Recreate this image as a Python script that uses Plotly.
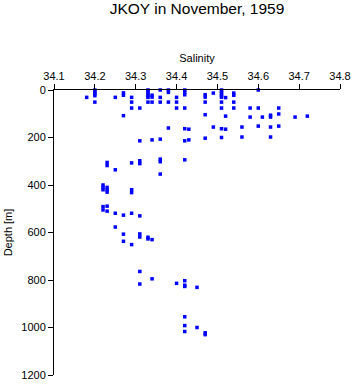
import plotly.graph_objects as go

salinity = (
    [34.18]
    + [34.20] * 5
    + [34.22] * 5
    + [34.23] * 7
    + [34.25] * 4
    + [34.27] * 6
    + [34.29] * 8
    + [34.31] * 9
    + [34.33] * 8
    + [34.34] * 6
    + [34.36] * 7
    + [34.38] * 4
    + [34.40] * 4
    + [34.42] * 13
    + [34.43] * 2
    + [34.45] * 2
    + [34.47] * 7
    + [34.49] * 2
    + [34.51] * 9
    + [34.52] * 3
    + [34.54] * 4
    + [34.56] * 2
    + [34.58] * 2
    + [34.60] * 3
    + [34.61] * 1
    + [34.63] * 4
    + [34.65] * 3
    + [34.69] * 1
    + [34.72] * 1
)
depth = (
    [31]
    + [0, 8, 16, 24, 51]
    + [400, 410, 420, 491, 505]
    + [305, 318, 410, 420, 430, 489, 510]
    + [31, 336, 519, 577]
    + [12, 22, 108, 527, 607, 637]
    + [31, 51, 76, 307, 420, 432, 519, 651]
    + [76, 214, 298, 310, 530, 606, 619, 764, 817]
    + [0, 8, 16, 24, 31, 51, 620, 627]
    + [22, 30, 51, 210, 630, 795]
    + [0, 31, 51, 207, 291, 302, 354]
    + [0, 10, 51, 160]
    + [31, 51, 76, 814]
    + [0, 10, 20, 76, 163, 214, 294, 803, 822, 827, 955, 992, 1017]
    + [165, 210]
    + [831, 1000]
    + [20, 30, 51, 104, 203, 1022, 1030]
    + [13, 156]
    + [0, 8, 16, 24, 30, 51, 76, 163, 200]
    + [32, 110, 165]
    + [13, 22, 51, 76]
    + [156, 198]
    + [76, 114]
    + [0, 76, 152]
    + [114]
    + [106, 114, 156, 198]
    + [76, 101, 152]
    + [114]
    + [110]
)

x_ticks = [34.1, 34.2, 34.3, 34.4, 34.5, 34.6, 34.7, 34.8]
y_ticks = [0, 200, 400, 600, 800, 1000, 1200]

fig = go.Figure(
    go.Scatter(
        x=salinity,
        y=depth,
        mode="markers",
        marker=dict(symbol="square", size=3.5, color="#0000ff", line=dict(width=0)),
        showlegend=False,
        cliponaxis=False,
    )
)

font = "Liberation Sans, Arial, sans-serif"
fig.update_layout(
    width=353,
    height=384,
    margin=dict(l=54, r=13, t=90, b=9),
    paper_bgcolor="white",
    plot_bgcolor="white",
    font=dict(family=font, size=11, color="black"),
    title=dict(
        text="JKOY in November, 1959",
        x=(54 + 340) / 2 / 353,
        xanchor="center",
        y=1 - 8.5 / 384,
        yanchor="middle",
        yref="container",
        font=dict(size=15.5, family=font, color="black"),
    ),
)
fig.update_xaxes(
    side="top",
    range=[34.1, 34.8],
    tickvals=x_ticks,
    ticktext=[f"{v:.1f}" for v in x_ticks],
    ticks="outside",
    ticklen=5,
    tickwidth=1,
    tickcolor="black",
    showline=True,
    linecolor="black",
    linewidth=1,
    showgrid=False,
    zeroline=False,
    automargin=False,
    title=dict(text="Salinity", font=dict(size=11), standoff=4),
)
fig.update_yaxes(
    range=[1200, 0],
    tickvals=y_ticks,
    ticks="outside",
    ticklen=5,
    tickwidth=1,
    tickcolor="black",
    showline=True,
    linecolor="black",
    linewidth=1,
    showgrid=False,
    zeroline=False,
    automargin=False,
    title=dict(text="Depth [m]", font=dict(size=11), standoff=6),
)

fig.write_html("out.html")
